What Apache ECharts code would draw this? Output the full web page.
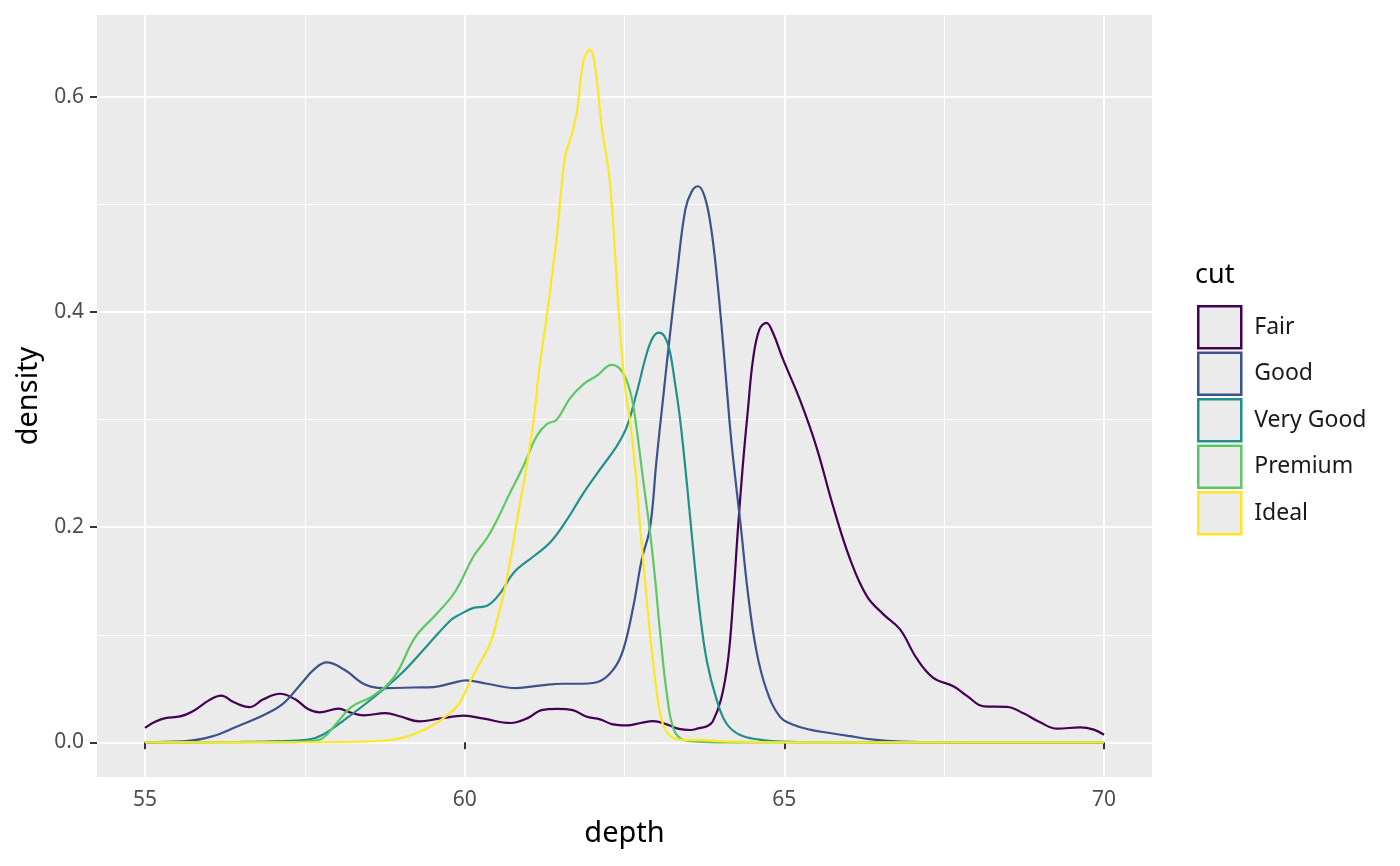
<!DOCTYPE html>
<html><head><meta charset="utf-8">
<script src="https://cdn.jsdelivr.net/npm/echarts@6/dist/echarts.min.js"></script>
<style>html,body{margin:0;padding:0;background:#fff}#c{width:1400px;height:866px}</style>
</head><body><div id="c"></div>
<script>
const cuts = ['Fair','Good','Very Good','Premium','Ideal'];
const colors = ['#440154','#3B528B','#21908C','#5DC863','#FDE725'];
const xMajor = [55,60,65,70];
const xMinor = [57.5,62.5,67.5];
const yMajor = [0,0.2,0.4,0.6];
const yMinor = [0.1,0.3,0.5];

const fair = [[55.0,0.0135],[55.15,0.019],[55.32,0.0226],[55.55,0.0241],[55.75,0.029],[56.0,0.039],[56.19,0.0435],[56.4,0.037],[56.64,0.0328],[56.85,0.040],[57.11,0.0452],[57.35,0.040],[57.55,0.031],[57.73,0.0279],[58.03,0.0313],[58.2,0.028],[58.42,0.0251],[58.76,0.0272],[59.0,0.024],[59.29,0.0195],[59.6,0.022],[59.99,0.0248],[60.3,0.022],[60.72,0.018],[61.0,0.023],[61.2,0.030],[61.45,0.0312],[61.69,0.030],[61.9,0.024],[62.12,0.0214],[62.3,0.017],[62.54,0.0158],[62.75,0.018],[62.95,0.0198],[63.16,0.0167],[63.35,0.0125],[63.53,0.0115],[63.67,0.0133],[63.79,0.015],[63.88,0.0195],[64.01,0.040],[64.12,0.077],[64.2,0.133],[64.27,0.195],[64.35,0.257],[64.43,0.309],[64.51,0.356],[64.61,0.384],[64.72,0.390],[64.82,0.381],[64.98,0.356],[65.24,0.319],[65.5,0.275],[65.76,0.22],[66.03,0.170],[66.29,0.136],[66.55,0.119],[66.81,0.105],[67.07,0.078],[67.33,0.060],[67.65,0.052],[67.86,0.043],[68.12,0.0335],[68.48,0.033],[68.74,0.027],[69.0,0.0186],[69.27,0.0127],[69.63,0.014],[69.84,0.0118],[70.0,0.0071]];
const good = [[55,0.0003],[55.6,0.001],[56.05,0.0056],[56.45,0.015],[56.9,0.0266],[57.17,0.0365],[57.45,0.055],[57.65,0.068],[57.84,0.0743],[58.12,0.0675],[58.45,0.0536],[58.79,0.0505],[59.2,0.051],[59.51,0.0514],[59.8,0.055],[60.02,0.0576],[60.35,0.0545],[60.8,0.0505],[61.2,0.053],[61.53,0.0545],[61.85,0.0545],[62.12,0.057],[62.33,0.068],[62.48,0.086],[62.64,0.127],[62.77,0.17],[62.9,0.2],[63.0,0.262],[63.1,0.318],[63.2,0.373],[63.32,0.435],[63.45,0.495],[63.55,0.512],[63.65,0.517],[63.75,0.508],[63.85,0.48],[63.95,0.43],[64.05,0.365],[64.14,0.30],[64.2,0.263],[64.32,0.2],[64.43,0.139],[64.56,0.086],[64.72,0.049],[64.93,0.024],[65.14,0.0164],[65.4,0.0118],[65.71,0.0087],[66.0,0.006],[66.4,0.0025],[66.82,0.0007],[67.5,0.0001],[70,0]];
const veryGood = [[55,0],[56.5,0.0005],[57.0,0.001],[57.56,0.0025],[57.78,0.007],[58.12,0.021],[58.56,0.041],[59.01,0.064],[59.4,0.089],[59.79,0.114],[59.93,0.119],[60.14,0.125],[60.35,0.127],[60.56,0.139],[60.77,0.158],[61.08,0.173],[61.34,0.186],[61.6,0.207],[61.86,0.232],[62.12,0.254],[62.38,0.2755],[62.54,0.294],[62.69,0.325],[62.85,0.362],[62.95,0.377],[63.04,0.381],[63.12,0.378],[63.2,0.366],[63.28,0.338],[63.37,0.30],[63.48,0.238],[63.58,0.176],[63.68,0.12],[63.79,0.075],[63.94,0.040],[64.09,0.018],[64.3,0.007],[64.61,0.0025],[64.98,0.0006],[65.5,0.0001],[70,0]];
const premium = [[55,0],[57.3,0.0003],[57.56,0.001],[57.78,0.004],[58.0,0.018],[58.23,0.033],[58.56,0.043],[58.9,0.061],[59.23,0.098],[59.57,0.120],[59.85,0.140],[60.14,0.173],[60.35,0.190],[60.5,0.206],[60.71,0.232],[60.92,0.257],[61.13,0.285],[61.29,0.296],[61.44,0.300],[61.65,0.320],[61.86,0.333],[62.07,0.341],[62.3,0.351],[62.46,0.345],[62.59,0.326],[62.67,0.30],[62.8,0.24],[62.9,0.195],[62.98,0.151],[63.06,0.10],[63.16,0.046],[63.27,0.012],[63.42,0.0025],[63.7,0.0005],[64.2,0],[70,0]];
const ideal = [[55,0],[57.5,0.0001],[58.1,0.0003],[58.68,0.0015],[59.01,0.004],[59.35,0.011],[59.63,0.021],[59.9,0.035],[60.07,0.055],[60.24,0.0737],[60.4,0.092],[60.5,0.112],[60.66,0.152],[60.82,0.207],[60.97,0.257],[61.08,0.30],[61.16,0.344],[61.29,0.399],[61.44,0.47],[61.57,0.544],[61.68,0.566],[61.76,0.588],[61.86,0.634],[61.96,0.644],[62.04,0.628],[62.15,0.569],[62.25,0.532],[62.33,0.476],[62.41,0.399],[62.5,0.335],[62.59,0.297],[62.67,0.2535],[62.745,0.2],[62.82,0.151],[62.9,0.10],[62.98,0.0585],[63.08,0.021],[63.19,0.0073],[63.37,0.0025],[63.68,0.002],[64.2,0.0007],[65,0],[70,0]];

const seriesData = [fair, good, veryGood, premium, ideal];
const FONT = 'Noto Sans';

const allX = seriesData.flat().map(p => p[0]);
const allY = seriesData.flat().map(p => p[1]);
const x0 = Math.min(...allX), x1 = Math.max(...allX);
const y0 = Math.min(...allY), y1 = Math.max(...allY);
const xPad = (x1 - x0) * 0.05, yPad = (y1 - y0) * 0.05;

const chart = echarts.init(document.getElementById('c'), null, {renderer: 'canvas'});
const baseAxis = {
  axisLine: {show: false},
  splitArea: {show: false},
  minorTick: {show: false},
  minorSplitLine: {show: false}
};
chart.setOption({
  animation: false,
  backgroundColor: '#ffffff',
  textStyle: {fontFamily: FONT},
  grid: {left: 97, right: 248, top: 15, bottom: 89, show: true, backgroundColor: '#EBEBEB', borderWidth: 0, containLabel: false},
  title: {text: 'cut', left: 1195, top: 262, padding: 0, textStyle: {fontFamily: FONT, fontSize: 27, fontWeight: 'normal', color: '#000'}},
  legend: {
    orient: 'vertical', left: 1197, top: 305, icon: 'rect', padding: 0,
    itemWidth: 43, itemHeight: 42, itemGap: 2,
    data: cuts.map((c, i) => ({name: c, itemStyle: {color: '#EBEBEB', borderColor: colors[i], borderWidth: 2.5}})),
    textStyle: {fontFamily: FONT, fontSize: 23, color: '#1a1a1a', padding: [0, 0, 0, 8]},
    selectedMode: false
  },
  xAxis: [
    Object.assign({}, baseAxis, {
      type: 'value', min: x0 - xPad, max: x1 + xPad,
      name: 'depth', nameLocation: 'middle', nameGap: 42,
      nameTextStyle: {fontFamily: FONT, fontSize: 29, color: '#000'},
      axisTick: {show: true, customValues: xMajor, length: 7, lineStyle: {color: '#333333', width: 2}},
      axisLabel: {customValues: xMajor, margin: 13, fontFamily: FONT, fontSize: 21, color: '#4D4D4D'},
      splitLine: {show: true, lineStyle: {color: '#ffffff', width: 2}}
    }),
    Object.assign({}, baseAxis, {
      type: 'value', min: x0 - xPad, max: x1 + xPad, position: 'bottom',
      axisTick: {show: false, customValues: xMinor},
      axisLabel: {show: false, customValues: xMinor},
      splitLine: {show: true, lineStyle: {color: '#ffffff', width: 1}}
    })
  ],
  yAxis: [
    Object.assign({}, baseAxis, {
      type: 'value', min: y0 - yPad, max: y1 + yPad,
      name: 'density', nameLocation: 'middle', nameGap: 52,
      nameTextStyle: {fontFamily: FONT, fontSize: 29, color: '#000'},
      axisTick: {show: true, customValues: yMajor, length: 7, lineStyle: {color: '#333333', width: 2}},
      axisLabel: {customValues: yMajor, margin: 13, fontFamily: FONT, fontSize: 21, color: '#4D4D4D', formatter: v => Number(v).toFixed(1)},
      splitLine: {show: true, lineStyle: {color: '#ffffff', width: 2}}
    }),
    Object.assign({}, baseAxis, {
      type: 'value', min: y0 - yPad, max: y1 + yPad, position: 'left',
      axisTick: {show: false, customValues: yMinor},
      axisLabel: {show: false, customValues: yMinor},
      splitLine: {show: true, lineStyle: {color: '#ffffff', width: 1}}
    })
  ],
  series: cuts.map((c, i) => ({
    name: c, type: 'line', data: seriesData[i],
    xAxisIndex: 0, yAxisIndex: 0,
    showSymbol: false, symbol: 'none',
    smooth: 0.4,
    lineStyle: {color: colors[i], width: 2.2},
    itemStyle: {color: colors[i]},
    emphasis: {disabled: true}
  }))
});
</script></body></html>
